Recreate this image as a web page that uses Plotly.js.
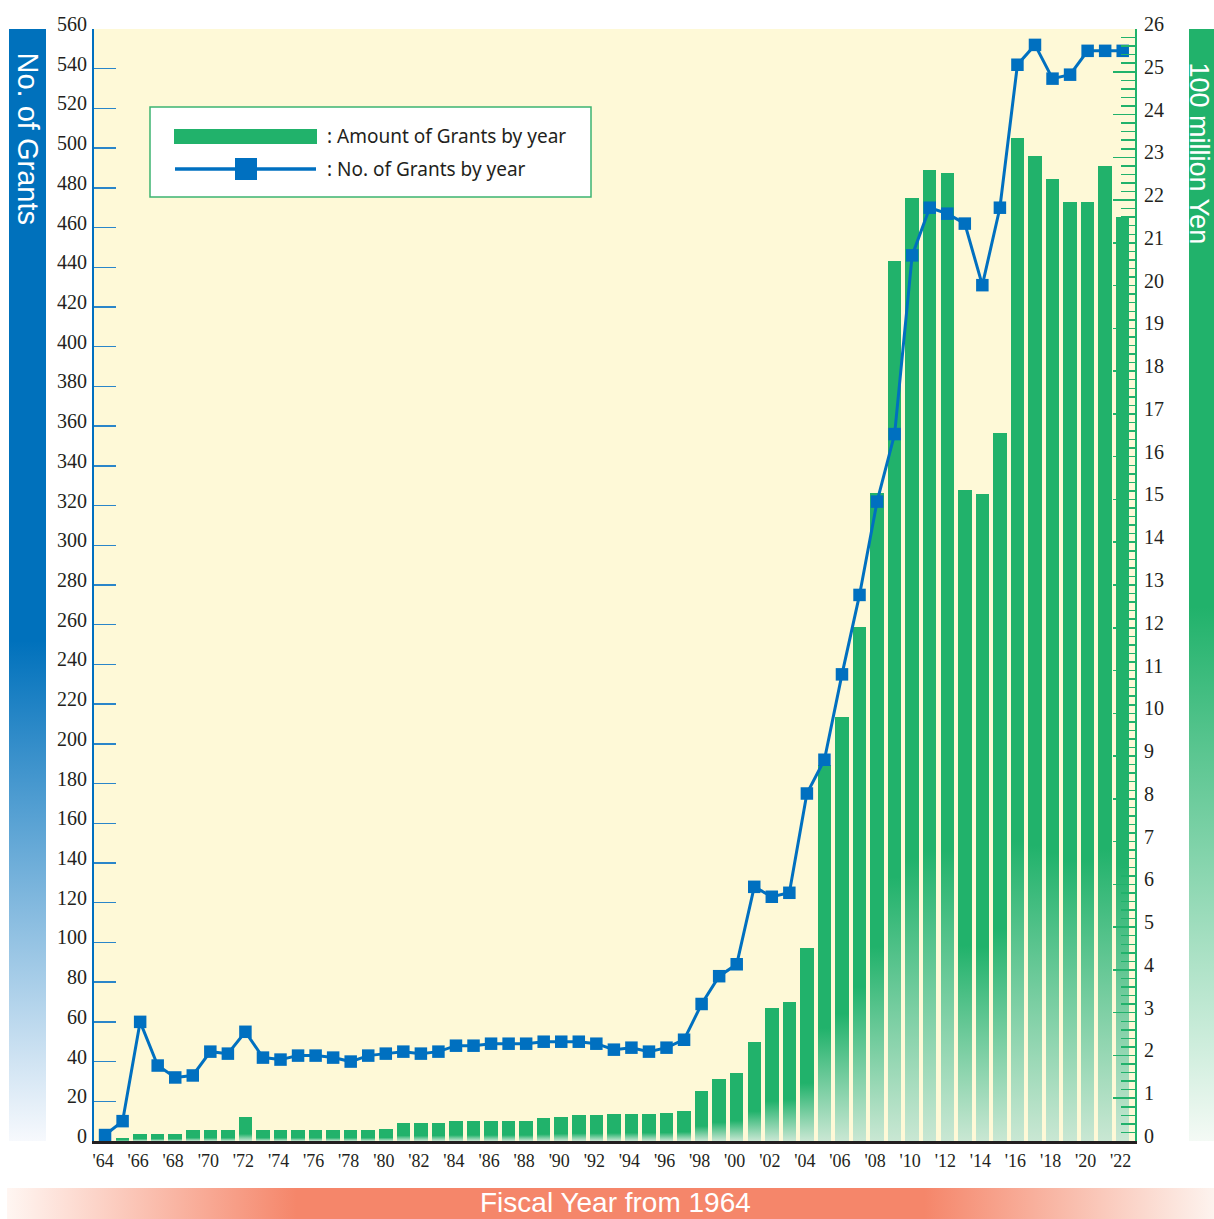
<!DOCTYPE html>
<html>
<head>
<meta charset="utf-8">
<script src="https://cdn.plot.ly/plotly-3.0.1.min.js"></script>
<style>
  html, body { margin:0; padding:0; background:#ffffff; overflow:hidden; }
  #wrap { position:relative; width:1214px; height:1219px; overflow:hidden; }
  .band { position:absolute; z-index:0; }
  #leftBand { left:9px; top:29px; width:37px; height:1112px;
    background:linear-gradient(to bottom, #0071bc 0%, #0071bc 55%, #f7f9fd 100%); }
  #rightBand { left:1189px; top:29px; width:37px; height:1112px;
    background:linear-gradient(to bottom, #21b26b 0%, #21b26b 52%, #f4faf5 100%); }
  #bottomBand { left:7px; top:1188px; width:1207px; height:31px;
    background:linear-gradient(to right, #fff6f2 0%, #f5866a 24%, #f5866a 76%, #fdf3ee 100%); }
  #plot { position:absolute; left:0; top:0; width:1214px; height:1219px; z-index:1; }
</style>
</head>
<body>
<div id="wrap">
  <div class="band" id="leftBand"></div>
  <div class="band" id="rightBand"></div>
  <div class="band" id="bottomBand"></div>
  <div id="plot"></div>
</div>
<script>
// ---- data ----
const years = [1964,1965,1966,1967,1968,1969,1970,1971,1972,1973,1974,1975,1976,1977,1978,1979,
  1980,1981,1982,1983,1984,1985,1986,1987,1988,1989,1990,1991,1992,1993,1994,1995,1996,1997,1998,1999,
  2000,2001,2002,2003,2004,2005,2006,2007,2008,2009,2010,2011,2012,2013,2014,2015,2016,2017,2018,2019,
  2020,2021,2022];

// No. of Grants by year (left axis)
const grantCounts = [3,10,60,38,32,33,45,44,55,42,41,43,43,42,40,43,
  44,45,44,45,48,48,49,49,49,50,50,50,49,46,47,45,47,51,69,83,
  89,128,123,125,175,192,235,275,322,356,446,470,467,462,431,470,542,552,535,537,
  549,549,549];

// Amount of Grants by year, 100 million yen (right axis)
const grantAmounts = [0,0.06,0.17,0.17,0.17,0.25,0.25,0.25,0.55,0.25,0.25,0.25,0.25,0.25,0.25,0.25,
  0.27,0.43,0.41,0.43,0.46,0.46,0.46,0.46,0.46,0.53,0.57,0.6,0.6,0.62,0.64,0.64,0.66,0.71,1.16,1.46,
  1.58,2.32,3.12,3.26,4.52,8.8,9.92,12.02,15.15,20.57,22.04,22.7,22.63,15.22,15.13,16.55,23.46,23.03,22.49,21.95,
  21.95,22.79,21.6];

const xTickYears = [1964,1966,1968,1970,1972,1974,1976,1978,1980,1982,1984,1986,1988,1990,1992,1994,
  1996,1998,2000,2002,2004,2006,2008,2010,2012,2014,2016,2018,2020,2022];
const xTickLabels = ["'64","'66","'68","'70","'72","'74","'76","'78","'80","'82","'84","'86","'88","'90","'92","'94",
  "'96","'98","'00","'02","'04","'06","'08","'10","'12","'14","'16","'18","'20","'22"];

const legendLabels = [": Amount of Grants by year", ": No. of Grants by year"];
const leftTitle = "No. of Grants";
const rightTitle = "100 million Yen";
const bottomTitle = "Fiscal Year from 1964";

// ---- layout helpers (pixel -> paper) ----
const PL = 94, PR = 1135, PT = 29, PB = 1141;
const px = v => (v - PL) / (PR - PL);
const py = v => (PB - v) / (PB - PT);

const GREEN = '#21b26b';
const BLUE = '#0070c0';
const INK = '#231f20';
const serif = 'Liberation Serif, Times New Roman, serif';
const sans = 'Liberation Sans, Arial, sans-serif';
const gothic = 'Noto Sans, Liberation Sans, sans-serif';

const barTrace = {
  type: 'bar', x: years, y: grantAmounts, yaxis: 'y', xaxis: 'x',
  width: 0.77, marker: { color: GREEN, line: { width: 0 } },
  hoverinfo: 'skip', name: 'Amount of Grants by year'
};
const lineTrace = {
  type: 'scatter', mode: 'lines+markers', x: years, y: grantCounts, yaxis: 'y2', xaxis: 'x',
  line: { color: BLUE, width: 3 },
  marker: { symbol: 'square', size: 12.5, color: BLUE, line: { width: 0 } },
  cliponaxis: false, hoverinfo: 'skip', name: 'No. of Grants by year'
};

const layout = {
  width: 1214, height: 1219,
  margin: { l: PL, r: 1214 - PR, t: PT, b: 1219 - PB, pad: 0 },
  paper_bgcolor: 'rgba(0,0,0,0)',
  plot_bgcolor: '#fef9d7',
  showlegend: false,
  bargap: 0,
  xaxis: {
    range: [1963.37, 2022.7], tickmode: 'array', tickvals: xTickYears, ticktext: xTickLabels,
    showgrid: false, zeroline: false, showline: true, linecolor: INK, linewidth: 3,
    ticks: '', tickfont: { family: serif, size: 18, color: INK }, ticklabelstandoff: 1,
    ticklabelshift: -2
  },
  yaxis: {
    side: 'right', range: [0, 26], dtick: 1, tick0: 0,
    showgrid: false, zeroline: false, showline: true, linecolor: GREEN, linewidth: 2,
    ticks: 'inside', ticklen: 22, tickwidth: 1.5, tickcolor: GREEN,
    minor: { dtick: 0.2, ticks: 'inside', ticklen: 14, tickwidth: 1.5, tickcolor: GREEN, showgrid: false },
    tickfont: { family: serif, size: 20, color: INK }, ticklabelstandoff: 3, ticklabelshift: -5
  },
  yaxis2: {
    overlaying: 'y', side: 'left', range: [0, 560], dtick: 20, tick0: 0,
    showgrid: false, zeroline: false, showline: true, linecolor: BLUE, linewidth: 2,
    ticks: 'inside', ticklen: 22, tickwidth: 1.5, tickcolor: '#2a86c9',
    tickfont: { family: serif, size: 20, color: INK }, ticklabelstandoff: 1, ticklabelshift: -5
  },
  shapes: [
    { type: 'rect', xref: 'paper', yref: 'paper', x0: px(150), x1: px(591), y0: py(197), y1: py(107),
      fillcolor: '#ffffff', line: { color: '#3cb471', width: 1.5 } },
    { type: 'rect', xref: 'paper', yref: 'paper', x0: px(174), x1: px(317), y0: py(144), y1: py(129),
      fillcolor: GREEN, line: { width: 0 } },
    { type: 'line', xref: 'paper', yref: 'paper', x0: px(175), x1: px(316), y0: py(169), y1: py(169),
      line: { color: BLUE, width: 3.5 } },
    { type: 'rect', xref: 'paper', yref: 'paper', x0: px(235), x1: px(257), y0: py(180), y1: py(158),
      fillcolor: BLUE, line: { width: 0 } }
  ],
  annotations: [
    { text: legendLabels[0], xref: 'paper', yref: 'paper', x: px(325), y: py(136), xanchor: 'left', yanchor: 'middle',
      showarrow: false, font: { family: gothic, size: 19, color: INK } },
    { text: legendLabels[1], xref: 'paper', yref: 'paper', x: px(325), y: py(169), xanchor: 'left', yanchor: 'middle',
      showarrow: false, font: { family: gothic, size: 19, color: INK } },
    { text: leftTitle, xref: 'paper', yref: 'paper', x: px(27.5), y: py(138), xanchor: 'center', yanchor: 'middle',
      textangle: 90, showarrow: false, font: { family: sans, size: 29, color: '#ffffff' } },
    { text: rightTitle, xref: 'paper', yref: 'paper', x: px(1198.5), y: py(153), xanchor: 'center', yanchor: 'middle',
      borderpad: 0, textangle: 90, showarrow: false, font: { family: sans, size: 27, color: '#ffffff' } },
    { text: bottomTitle, xref: 'paper', yref: 'paper', x: px(615), y: py(1202), xanchor: 'center', yanchor: 'middle',
      borderpad: 0, showarrow: false, font: { family: sans, size: 28, color: '#ffffff' } }
  ]
};

Plotly.newPlot('plot', [barTrace, lineTrace], layout, { staticPlot: true, displayModeBar: false })
  .then(function (gd) {
    // fade the lower part of each bar like the original artwork
    const svg = gd.querySelector('svg.main-svg');
    const NS = 'http://www.w3.org/2000/svg';
    let defs = svg.querySelector('defs');
    if (!defs) { defs = document.createElementNS(NS, 'defs'); svg.insertBefore(defs, svg.firstChild); }
    const grad = document.createElementNS(NS, 'linearGradient');
    grad.setAttribute('id', 'barFade');
    grad.setAttribute('x1', '0'); grad.setAttribute('y1', '0');
    grad.setAttribute('x2', '0'); grad.setAttribute('y2', '1');
    [['0', GREEN], ['0.7', GREEN], ['1', '#c9e7d3']].forEach(function (s) {
      const st = document.createElementNS(NS, 'stop');
      st.setAttribute('offset', s[0]); st.setAttribute('stop-color', s[1]);
      grad.appendChild(st);
    });
    defs.appendChild(grad);
    gd.querySelectorAll('.barlayer .point path').forEach(function (p) {
      p.style.fill = 'url(#barFade)';
    });
  });
</script>
</body>
</html>
